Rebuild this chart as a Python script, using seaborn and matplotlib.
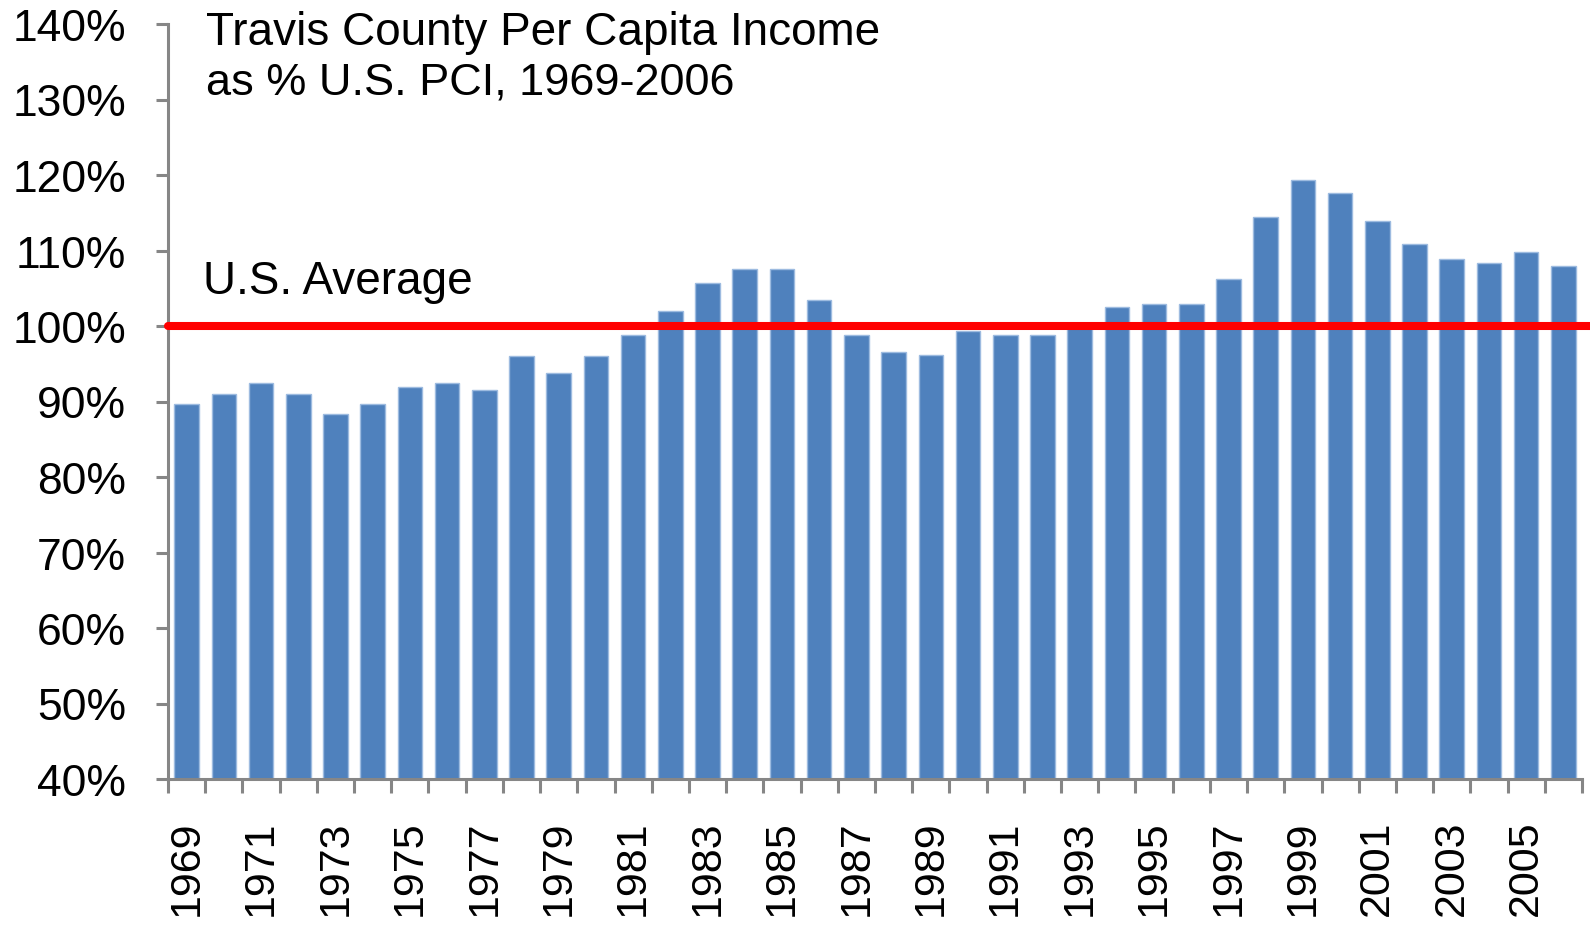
# ==============================================
# Travis County per capita income as % of U.S. PCI, 1969-2006
# saves out.png
# ==============================================

import pandas as pd
import matplotlib
matplotlib.use("Agg")
import matplotlib.pyplot as plt
import seaborn as sns
from matplotlib.ticker import FuncFormatter

# ----------------------
# 1. data
# ----------------------
years = list(range(1969, 2007))
pci_pct = [
    89.7, 91.0, 92.4, 91.0, 88.3, 89.7, 91.9, 92.4, 91.5, 96.0,
    93.8, 96.0, 98.8, 102.0, 105.7, 107.5, 107.5, 103.4, 98.8, 96.5,
    96.1, 99.3, 98.8, 98.8, 100.1, 102.5, 102.9, 102.9, 106.2, 114.4,
    119.4, 117.6, 113.9, 110.8, 108.9, 108.4, 109.8, 108.0,
]
y_ticks = [40, 50, 60, 70, 80, 90, 100, 110, 120, 130, 140]
us_average = 100
title_lines = ["Travis County Per Capita Income", "as % U.S. PCI, 1969-2006"]
avg_label = "U.S. Average"

df = pd.DataFrame({"year": [str(y) for y in years], "pct": pci_pct})

# ----------------------
# 2. style
# ----------------------
sns.set_style("white")
plt.rcParams["font.family"] = ["Liberation Sans", "DejaVu Sans"]
plt.rcParams["text.color"] = "black"
plt.rcParams["xtick.color"] = "black"
plt.rcParams["ytick.color"] = "black"

bar_color = "#4F81BD"
axis_color = "#868686"

fig = plt.figure(figsize=(15.9, 9.29), dpi=100)
ax = fig.add_axes([168 / 1590, 1 - 780 / 929, (1582 - 168) / 1590, (780 - 25) / 929])

# ----------------------
# 3. bars + U.S. average line
# ----------------------
sns.barplot(data=df, x="year", y="pct", color=bar_color, saturation=1,
            width=0.66, edgecolor="#9DBBE0", linewidth=1, ax=ax)
ax.axhline(us_average, xmax=1.006, color="#FF0000", linewidth=5.8,
           zorder=5, clip_on=False)

# ----------------------
# 4. axes, ticks, labels
# ----------------------
ax.set_xlim(-0.5, len(years) - 0.5)
ax.set_ylim(y_ticks[0], y_ticks[-1])
ax.set_yticks(y_ticks)
ax.yaxis.set_major_formatter(FuncFormatter(lambda v, p: f"{v:.0f}%"))
ax.tick_params(axis="y", direction="out", length=9, width=2.2,
               color=axis_color, labelcolor="black", labelsize=32, pad=21,
               left=True)

ax.set_xticks(range(0, len(years), 2))
ax.set_xticklabels([str(y) for y in years[::2]], rotation=90)
ax.set_xticks([i - 0.5 for i in range(len(years) + 1)], minor=True)
ax.tick_params(axis="x", which="major", length=0, labelsize=31, pad=29,
               labelcolor="black")
ax.tick_params(axis="x", which="minor", direction="out", length=10,
               width=2.2, color=axis_color, bottom=True)

for side in ["top", "right"]:
    ax.spines[side].set_visible(False)
for side in ["left", "bottom"]:
    ax.spines[side].set_color(axis_color)
    ax.spines[side].set_linewidth(2.2)

ax.set_xlabel("")
ax.set_ylabel("")

# title, two lines at fixed baselines
fig.text(206 / 1590, 1 - 45 / 929, title_lines[0], fontsize=33,
         ha="left", va="baseline")
fig.text(206 / 1590, 1 - 94 / 929, title_lines[1], fontsize=32.5,
         ha="left", va="baseline")
fig.text(203 / 1590, 1 - 294 / 929, avg_label, fontsize=33,
         ha="left", va="baseline")

# ----------------------
# 5. save
# ----------------------
fig.savefig("out.png", dpi=100)
plt.close(fig)
